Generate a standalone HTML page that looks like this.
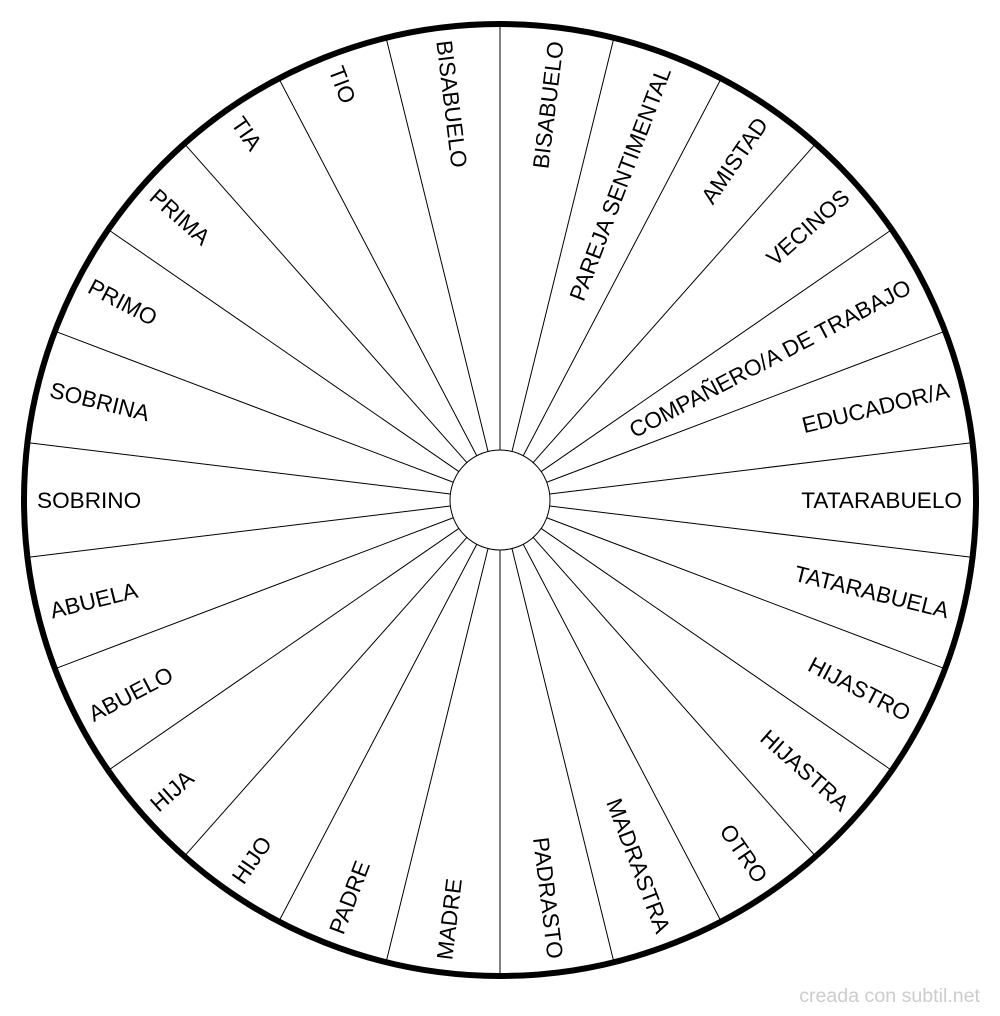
<!DOCTYPE html>
<html><head><meta charset="utf-8"><style>
html,body{margin:0;padding:0;background:#fff;}
svg{display:block;}
text{font-family:"Liberation Sans",sans-serif;font-size:22.6px;fill:#000;}
</style></head><body>
<svg width="1000" height="1016" viewBox="0 0 1000 1016">
<g transform="translate(500,500)">
<g stroke="#000" stroke-width="1">
<line x1="0" y1="-50" x2="0" y2="-476" transform="rotate(0)"/>
<line x1="0" y1="-50" x2="0" y2="-476" transform="rotate(13.846)"/>
<line x1="0" y1="-50" x2="0" y2="-476" transform="rotate(27.692)"/>
<line x1="0" y1="-50" x2="0" y2="-476" transform="rotate(41.538)"/>
<line x1="0" y1="-50" x2="0" y2="-476" transform="rotate(55.385)"/>
<line x1="0" y1="-50" x2="0" y2="-476" transform="rotate(69.231)"/>
<line x1="0" y1="-50" x2="0" y2="-476" transform="rotate(83.077)"/>
<line x1="0" y1="-50" x2="0" y2="-476" transform="rotate(96.923)"/>
<line x1="0" y1="-50" x2="0" y2="-476" transform="rotate(110.769)"/>
<line x1="0" y1="-50" x2="0" y2="-476" transform="rotate(124.615)"/>
<line x1="0" y1="-50" x2="0" y2="-476" transform="rotate(138.462)"/>
<line x1="0" y1="-50" x2="0" y2="-476" transform="rotate(152.308)"/>
<line x1="0" y1="-50" x2="0" y2="-476" transform="rotate(166.154)"/>
<line x1="0" y1="-50" x2="0" y2="-476" transform="rotate(180)"/>
<line x1="0" y1="-50" x2="0" y2="-476" transform="rotate(193.846)"/>
<line x1="0" y1="-50" x2="0" y2="-476" transform="rotate(207.692)"/>
<line x1="0" y1="-50" x2="0" y2="-476" transform="rotate(221.538)"/>
<line x1="0" y1="-50" x2="0" y2="-476" transform="rotate(235.385)"/>
<line x1="0" y1="-50" x2="0" y2="-476" transform="rotate(249.231)"/>
<line x1="0" y1="-50" x2="0" y2="-476" transform="rotate(263.077)"/>
<line x1="0" y1="-50" x2="0" y2="-476" transform="rotate(276.923)"/>
<line x1="0" y1="-50" x2="0" y2="-476" transform="rotate(290.769)"/>
<line x1="0" y1="-50" x2="0" y2="-476" transform="rotate(304.615)"/>
<line x1="0" y1="-50" x2="0" y2="-476" transform="rotate(318.462)"/>
<line x1="0" y1="-50" x2="0" y2="-476" transform="rotate(332.308)"/>
<line x1="0" y1="-50" x2="0" y2="-476" transform="rotate(346.154)"/>
</g>
<circle cx="0" cy="0" r="50" fill="#fff" stroke="#000" stroke-width="1"/>
<circle cx="0" cy="0" r="476" fill="none" stroke="#000" stroke-width="6"/>
<g text-anchor="end">
<text x="462" y="8" transform="rotate(-83.077)">BISABUELO</text>
<text x="462" y="8" transform="rotate(-69.231)">PAREJA SENTIMENTAL</text>
<text x="462" y="8" transform="rotate(-55.385)">AMISTAD</text>
<text x="462" y="8" transform="rotate(-41.538)">VECINOS</text>
<text x="462" y="8" transform="rotate(-27.692)">COMPAÑERO/A DE TRABAJO</text>
<text x="462" y="8" transform="rotate(-13.846)">EDUCADOR/A</text>
<text x="462" y="8" transform="rotate(0)">TATARABUELO</text>
<text x="462" y="8" transform="rotate(13.846)">TATARABUELA</text>
<text x="462" y="8" transform="rotate(27.692)">HIJASTRO</text>
<text x="462" y="8" transform="rotate(41.538)">HIJASTRA</text>
<text x="462" y="8" transform="rotate(55.385)">OTRO</text>
<text x="462" y="8" transform="rotate(69.231)">MADRASTRA</text>
<text x="462" y="8" transform="rotate(83.077)">PADRASTO</text>
</g>
<g text-anchor="start">
<text x="-463" y="8" transform="rotate(-83.077)">MADRE</text>
<text x="-463" y="8" transform="rotate(-69.231)">PADRE</text>
<text x="-463" y="8" transform="rotate(-55.385)">HIJO</text>
<text x="-463" y="8" transform="rotate(-41.538)">HIJA</text>
<text x="-463" y="8" transform="rotate(-27.692)">ABUELO</text>
<text x="-463" y="8" transform="rotate(-13.846)">ABUELA</text>
<text x="-463" y="8" transform="rotate(0)">SOBRINO</text>
<text x="-463" y="8" transform="rotate(13.846)">SOBRINA</text>
<text x="-463" y="8" transform="rotate(27.692)">PRIMO</text>
<text x="-463" y="8" transform="rotate(41.538)">PRIMA</text>
<text x="-463" y="8" transform="rotate(55.385)">TIA</text>
<text x="-463" y="8" transform="rotate(69.231)">TIO</text>
<text x="-463" y="8" transform="rotate(83.077)">BISABUELO</text>
</g>
</g>
<text x="980" y="1002" text-anchor="end" style="font-size:19.6px;fill:#ccc">creada con subtil.net</text>
</svg>
</body></html>
